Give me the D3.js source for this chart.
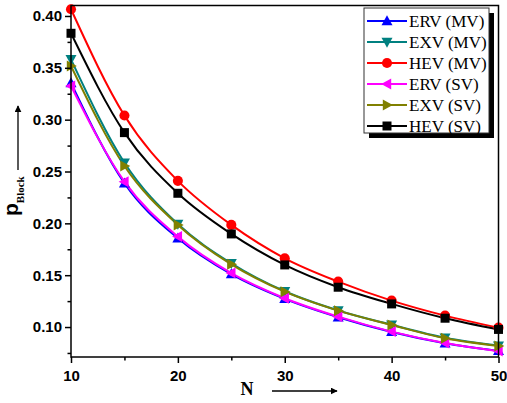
<!DOCTYPE html>
<html>
<head>
<meta charset="utf-8">
<script src="https://cdn.jsdelivr.net/npm/d3@7"></script>
<style>
  html, body { margin: 0; padding: 0; background: #fff; }
  svg { display: block; }
</style>
</head>
<body>
<svg id="chart" width="507" height="403"></svg>
<script>
// Blocking probability vs. number of users N
const nValues = [10, 15, 20, 25, 30, 35, 40, 45, 50];

const erv_mv = [0.3354, 0.2387, 0.1856, 0.1510, 0.1272, 0.1095, 0.0953, 0.0844, 0.0770];
const exv_mv = [0.3582, 0.2585, 0.1994, 0.1615, 0.1345, 0.1160, 0.1022, 0.0897, 0.0821];
const hev_mv = [0.4065, 0.3040, 0.2410, 0.1985, 0.1663, 0.1438, 0.1255, 0.1110, 0.0994];
const erv_sv = [0.3325, 0.2402, 0.1872, 0.1520, 0.1278, 0.1100, 0.0956, 0.0846, 0.0768];
const exv_sv = [0.3518, 0.2553, 0.1985, 0.1605, 0.1341, 0.1158, 0.1020, 0.0892, 0.0818];
const hev_sv = [0.3833, 0.2875, 0.2290, 0.1898, 0.1599, 0.1384, 0.1223, 0.1085, 0.0977];

const seriesNames = ["ERV (MV)", "EXV (MV)", "HEV (MV)", "ERV (SV)", "EXV (SV)", "HEV (SV)"];
const seriesValues = [erv_mv, exv_mv, hev_mv, erv_sv, exv_sv, hev_sv];
const seriesColors = ["#0000ff", "#008080", "#ff0000", "#ff00ff", "#808000", "#000000"];
const seriesMarkers = ["triUp", "triDown", "circle", "triLeft", "triRight", "square"];

const xMajorTicks = [10, 20, 30, 40, 50];
const xMinorTicks = [15, 25, 35, 45];
const yMajorTicks = [0.10, 0.15, 0.20, 0.25, 0.30, 0.35, 0.40];
const yMinorTicks = [0.075, 0.125, 0.175, 0.225, 0.275, 0.325, 0.375];

const svg = d3.select("#chart");
const plot = { left: 71, right: 498.5, top: 5.5, bottom: 357 };

const x = d3.scaleLinear().domain([10, 50]).range([plot.left, plot.right]);
const y = d3.scaleLinear().domain([0.0711, 0.4101]).range([plot.bottom, plot.top]);

const tickFont = "'Liberation Sans', Arial, sans-serif";
const serif = "'Liberation Serif', 'Times New Roman', serif";

// Arrow marker for axis title arrows
svg.append("defs").append("marker")
  .attr("id", "arrow")
  .attr("viewBox", "0 0 10 10")
  .attr("refX", 9).attr("refY", 5)
  .attr("markerWidth", 7).attr("markerHeight", 7)
  .attr("markerUnits", "userSpaceOnUse")
  .attr("orient", "auto")
  .append("path").attr("d", "M0,0 L10,5 L0,10 Z").attr("fill", "#000");

// Marker shape generator
function markerPath(kind, s) {
  switch (kind) {
    case "circle": return d3.symbol(d3.symbolCircle, s * s * 0.80)();
    case "square": return `M${-s/2},${-s/2}h${s}v${s}h${-s}Z`;
    case "triUp": return `M0,${-s*0.58}L${s*0.55},${s*0.42}L${-s*0.55},${s*0.42}Z`;
    case "triDown": return `M0,${s*0.58}L${s*0.55},${-s*0.42}L${-s*0.55},${-s*0.42}Z`;
    case "triLeft": return `M${-s*0.58},0L${s*0.42},${s*0.55}L${s*0.42},${-s*0.55}Z`;
    case "triRight": return `M${s*0.58},0L${-s*0.42},${s*0.55}L${-s*0.42},${-s*0.55}Z`;
  }
}

// Curves
const line = d3.line()
  .x((d, i) => x(nValues[i]))
  .y(d => y(d))
  .curve(d3.curveMonotoneX);

const gSeries = svg.append("g");
seriesValues.forEach((vals, k) => {
  gSeries.append("path")
    .attr("d", line(vals))
    .attr("fill", "none")
    .attr("stroke", seriesColors[k])
    .attr("stroke-width", 2);
});
seriesValues.forEach((vals, k) => {
  gSeries.selectAll(null)
    .data(vals)
    .enter().append("path")
    .attr("transform", (d, i) => `translate(${x(nValues[i])},${y(d)})`)
    .attr("d", markerPath(seriesMarkers[k], seriesMarkers[k] === "square" ? 9 : 10))
    .attr("fill", seriesColors[k]);
});

// Frame
svg.append("rect")
  .attr("x", plot.left).attr("y", plot.top)
  .attr("width", plot.right - plot.left).attr("height", plot.bottom - plot.top)
  .attr("fill", "none").attr("stroke", "#000").attr("stroke-width", 1.5);

// X axis
const xAxis = d3.axisBottom(x).tickValues(xMajorTicks).tickSize(6).tickFormat(d3.format("d"));
const gx = svg.append("g").attr("transform", `translate(0,${plot.bottom})`).call(xAxis);
gx.select(".domain").remove();
gx.selectAll(".tick line").attr("stroke", "#000").attr("stroke-width", 1.5);
gx.selectAll(".tick text")
  .attr("font-family", tickFont).attr("font-weight", "bold").attr("font-size", 15)
  .attr("fill", "#000").attr("dy", null).attr("y", 24);
const gxm = svg.append("g").attr("transform", `translate(0,${plot.bottom})`)
  .call(d3.axisBottom(x).tickValues(xMinorTicks).tickSize(3.5).tickFormat(""));
gxm.select(".domain").remove();
gxm.selectAll(".tick line").attr("stroke", "#000").attr("stroke-width", 1.5);

// Y axis
const yAxis = d3.axisLeft(y).tickValues(yMajorTicks).tickSize(6).tickFormat(d3.format(".2f"));
const gy = svg.append("g").attr("transform", `translate(${plot.left},0)`).call(yAxis);
gy.select(".domain").remove();
gy.selectAll(".tick line").attr("stroke", "#000").attr("stroke-width", 1.5);
gy.selectAll(".tick text")
  .attr("font-family", tickFont).attr("font-weight", "bold").attr("font-size", 15)
  .attr("fill", "#000").attr("x", -9);
const gym = svg.append("g").attr("transform", `translate(${plot.left},0)`)
  .call(d3.axisLeft(y).tickValues(yMinorTicks).tickSize(3.5).tickFormat(""));
gym.select(".domain").remove();
gym.selectAll(".tick line").attr("stroke", "#000").attr("stroke-width", 1.5);

// X title with arrow
svg.append("text")
  .attr("x", 247).attr("y", 395)
  .attr("text-anchor", "middle")
  .attr("font-family", serif).attr("font-weight", "bold").attr("font-size", 18)
  .text("N");
svg.append("line")
  .attr("x1", 272).attr("y1", 391).attr("x2", 337).attr("y2", 391)
  .attr("stroke", "#000").attr("stroke-width", 1.3)
  .attr("marker-end", "url(#arrow)");

// Y title with arrow
const yt = svg.append("text")
  .attr("transform", "translate(18,216) rotate(-90)")
  .attr("font-weight", "bold");
yt.append("tspan").attr("font-family", tickFont).attr("font-size", 21).text("p");
yt.append("tspan").attr("font-family", serif).attr("font-size", 11).attr("dy", 6).text("Block");
svg.append("line")
  .attr("x1", 18).attr("y1", 170).attr("x2", 18).attr("y2", 106)
  .attr("stroke", "#000").attr("stroke-width", 1.3)
  .attr("marker-end", "url(#arrow)");

// Legend
const lg = { x: 364, y: 8, w: 125, h: 125 };
const legend = svg.append("g");
legend.append("rect")
  .attr("x", lg.x + 5).attr("y", lg.y + 5).attr("width", lg.w).attr("height", lg.h)
  .attr("fill", "#000");
legend.append("rect")
  .attr("x", lg.x).attr("y", lg.y).attr("width", lg.w).attr("height", lg.h)
  .attr("fill", "#fff").attr("stroke", "#333").attr("stroke-width", 1);
seriesNames.forEach((name, k) => {
  const cy = 21 + k * 21;
  legend.append("line")
    .attr("x1", lg.x + 3).attr("x2", lg.x + 43).attr("y1", cy).attr("y2", cy)
    .attr("stroke", seriesColors[k]).attr("stroke-width", 2);
  legend.append("path")
    .attr("transform", `translate(${lg.x + 23},${cy})`)
    .attr("d", markerPath(seriesMarkers[k], seriesMarkers[k] === "square" ? 9 : 10))
    .attr("fill", seriesColors[k]);
  legend.append("text")
    .attr("x", lg.x + 45).attr("y", cy + 6)
    .attr("font-family", serif).attr("font-size", 17)
    .attr("textLength", null)
    .attr("fill", "#000")
    .text(name);
});
</script>
</body>
</html>
